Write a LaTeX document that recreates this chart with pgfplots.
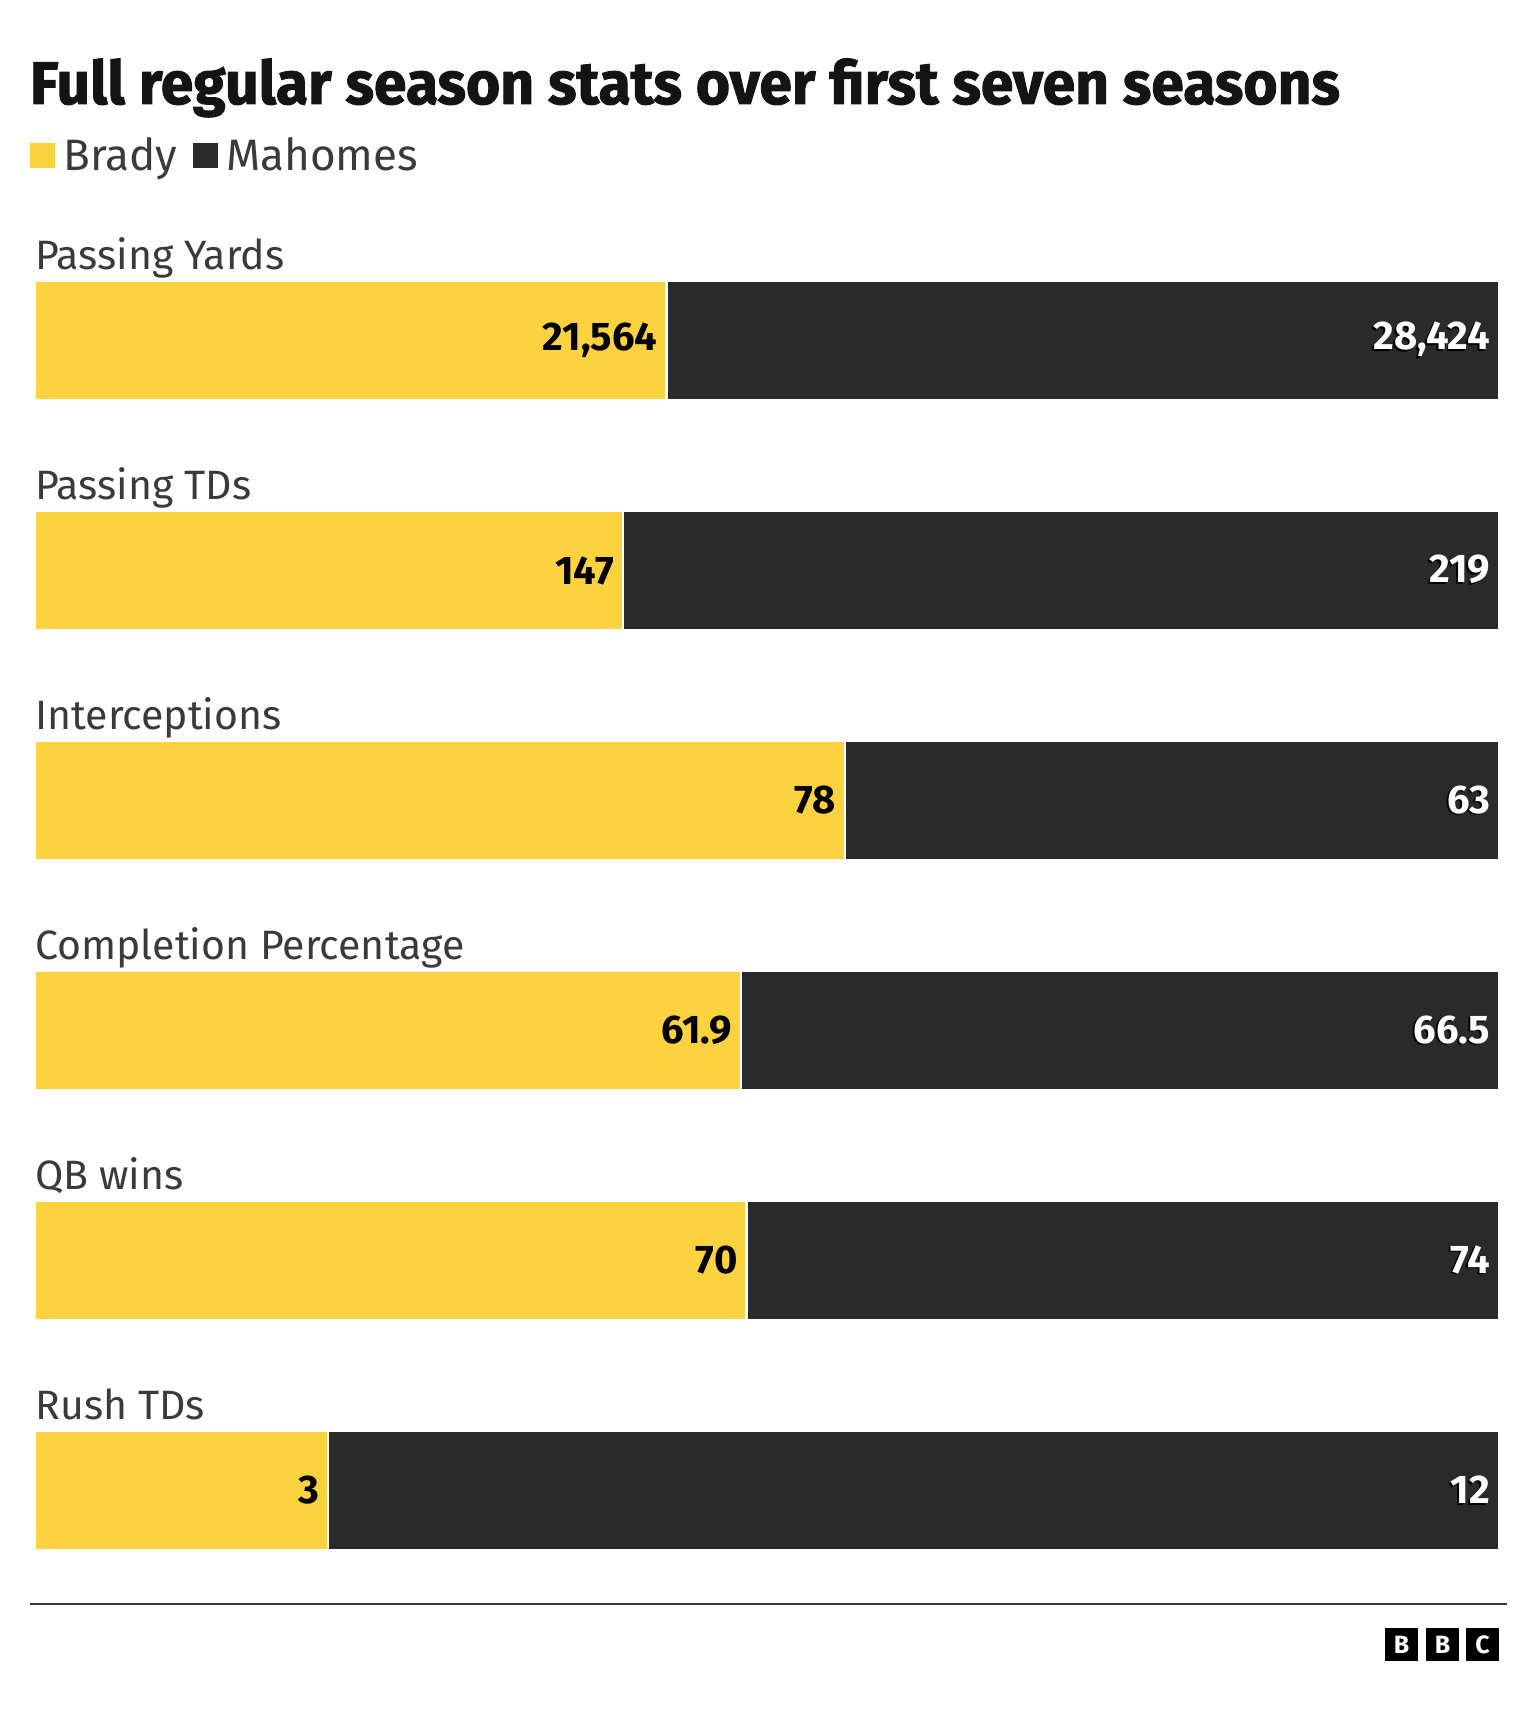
\documentclass[border=0pt]{standalone}
\usepackage{pgfplots}
\pgfplotsset{compat=1.18}
\usepackage{pgfplotstable}
\usepackage{graphicx}
\usepackage{fontspec}
\setmainfont{Fira Sans}
\newfontfamily\titlefont{Fira Sans}[BoldFeatures={FakeBold=1.6}]
\definecolor{bradyY}{HTML}{FCD33F}
\definecolor{mahD}{HTML}{2A2A2A}
\definecolor{labG}{HTML}{3A3A3A}
\definecolor{titleK}{HTML}{141414}

% shares of each stat (Brady, Mahomes) in percent, and printed values
\pgfplotstableread{
idx bp mp bl ml
0 43.14 56.86 21,564 28,424
1 40.16 59.84 147 219
2 55.32 44.68 78 63
3 48.21 51.79 61.9 66.5
4 48.61 51.39 70 74
5 20.00 80.00 3 12
}\stats

\begin{document}
\begin{tikzpicture}
\path[use as bounding box] (0pt,0pt) rectangle (768pt,857pt);
\node[anchor=base west, inner sep=0pt, text=titleK] at (14.75pt,805pt)
  {\resizebox{655pt}{\height}{\fontsize{30}{36}\selectfont\titlefont\bfseries Full regular season stats over first seven seasons}};
\begin{axis}[
  at={(17.5pt,54.25pt)}, anchor=south west,
  scale only axis, width=732pt, height=690pt,
  xmin=0, xmax=100, ymin=-0.5, ymax=5.5, y dir=reverse,
  xbar stacked, bar width=59.5pt,
  axis lines=none, ticks=none, clip=false,
  point meta=explicit symbolic,
  every node near coord/.append style={inner sep=0pt, font=\fontsize{20}{24}\selectfont\bfseries},
  legend style={at={(axis description cs:-0.0038,1.0507)}, anchor=west, draw=none, fill=none,
    inner sep=0pt, legend columns=-1, font=\fontsize{22}{26}\selectfont, text=labG,
    /tikz/every even column/.append style={column sep=5.5pt},
    /tikz/every odd column/.append style={column sep=2pt}},
  legend image code/.code={\fill[#1,draw=none] (0pt,-6.4pt) rectangle (12.8pt,6.4pt);},
  visualization depends on={rawx \as \segw},
  every node near coord/.append style={xshift=\segw*3.66pt},
]
\addplot[fill=bradyY, draw=white, line width=1.2pt,
  nodes near coords={\llap{\color{black}\pgfplotspointmeta\kern4.5pt}}]
  table[x=bp, y=idx, meta=bl]{\stats};
\addplot[fill=mahD, draw=white, line width=1.2pt,
  nodes near coords={\llap{\rlap{\kern-0.9pt\raisebox{-0.9pt}{\color{black}\pgfplotspointmeta}}\color{white}\pgfplotspointmeta\kern4.5pt}}]
  table[x=mp, y=idx, meta=ml]{\stats};
\legend{Brady, Mahomes}
\node[anchor=base west, inner sep=0pt, text=labG, font=\fontsize{20.5}{24}\selectfont] at ([yshift=35.75pt]axis cs:0,0) {Passing Yards};
\node[anchor=base west, inner sep=0pt, text=labG, font=\fontsize{20.5}{24}\selectfont] at ([yshift=35.75pt]axis cs:0,1) {Passing TDs};
\node[anchor=base west, inner sep=0pt, text=labG, font=\fontsize{20.5}{24}\selectfont] at ([yshift=35.75pt]axis cs:0,2) {Interceptions};
\node[anchor=base west, inner sep=0pt, text=labG, font=\fontsize{20.5}{24}\selectfont] at ([yshift=35.75pt]axis cs:0,3) {Completion Percentage};
\node[anchor=base west, inner sep=0pt, text=labG, font=\fontsize{20.5}{24}\selectfont] at ([yshift=35.75pt]axis cs:0,4) {QB wins};
\node[anchor=base west, inner sep=0pt, text=labG, font=\fontsize{20.5}{24}\selectfont] at ([yshift=35.75pt]axis cs:0,5) {Rush TDs};
\end{axis}
\draw[color=labG, line width=1.1pt] (14.75pt,55pt) -- (753.5pt,55pt);
\foreach \xl/\letter in {692.5/B,713/B,733/C}{
  \fill[black] (\xl pt,26.5pt) rectangle ++(16.5pt,16.5pt);
  \node[text=white, inner sep=0pt, font=\fontsize{12.5}{14}\selectfont\bfseries] at ([xshift=8.25pt]\xl pt,34.75pt) {\letter};
}
\end{tikzpicture}
\end{document}
